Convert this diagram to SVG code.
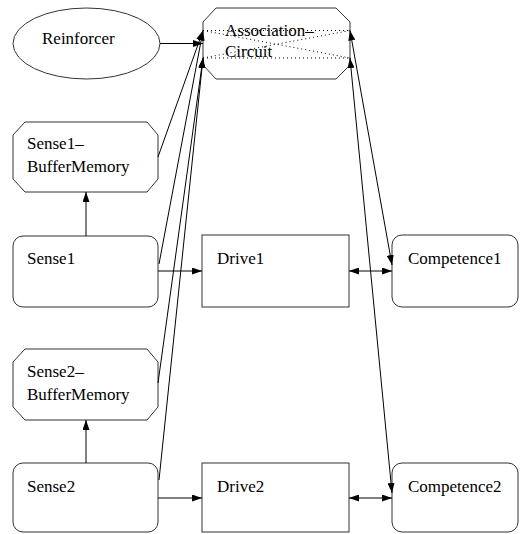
<svg xmlns="http://www.w3.org/2000/svg" width="530" height="534" viewBox="0 0 530 534">
  <style>
    .node { fill: #ffffff; stroke: #333333; stroke-width: 1; }
    .label { font-family: "Liberation Serif", "Times New Roman", serif; font-size: 17px; fill: #000000; }
    .edge { fill: none; stroke: #000000; stroke-width: 1; }
    .inner { fill: none; stroke: #000000; stroke-width: 1; stroke-dasharray: 1 3; }
  </style>
  <defs>
    <marker id="arrow" viewBox="0 0 10 7" refX="10" refY="3.5" markerWidth="10" markerHeight="7" markerUnits="userSpaceOnUse" orient="auto-start-reverse">
      <path d="M0,0 L10,3.5 L0,7 Z" fill="#000000"/>
    </marker>
  </defs>
  <rect width="530" height="534" fill="#ffffff"/>

  <g id="reinforcer">
    <ellipse class="node" cx="86.5" cy="43.5" rx="73.5" ry="35.5"/>
    <text class="label" x="42" y="44">Reinforcer</text>
  </g>

  <g id="association-circuit">
    <polygon class="node" points="216,8 336,8 350,22 350,65 336,79 216,79 203,65 203,22"/>
    <line class="inner" x1="203" y1="30.5" x2="350" y2="30.5"/>
    <line class="inner" x1="203" y1="58" x2="350" y2="58"/>
    <line class="inner" x1="203" y1="30.5" x2="350" y2="58"/>
    <line class="inner" x1="203" y1="58" x2="350" y2="30.5"/>
    <text class="label" x="225" y="36">Association–</text>
    <text class="label" x="225" y="57">Circuit</text>
  </g>

  <g id="sense1-buffermemory">
    <polygon class="node" points="25,122 147,122 158,135 158,179 147,192 25,192 13,179 13,135"/>
    <text class="label" x="27" y="149">Sense1–</text>
    <text class="label" x="27" y="172">BufferMemory</text>
  </g>

  <g id="sense1">
    <rect class="node" x="13" y="236" width="145" height="71" rx="10" ry="10"/>
    <text class="label" x="27" y="264">Sense1</text>
  </g>

  <g id="drive1">
    <rect class="node" x="202" y="235" width="147" height="72"/>
    <text class="label" x="217" y="264">Drive1</text>
  </g>

  <g id="competence1">
    <rect class="node" x="392" y="235" width="126" height="72" rx="10" ry="10"/>
    <text class="label" x="408" y="264">Competence1</text>
  </g>

  <g id="sense2-buffermemory">
    <polygon class="node" points="25,349 147,349 158,362 158,407 147,420 25,420 13,407 13,362"/>
    <text class="label" x="27" y="377">Sense2–</text>
    <text class="label" x="27" y="400">BufferMemory</text>
  </g>

  <g id="sense2">
    <rect class="node" x="13" y="463" width="145" height="69" rx="10" ry="10"/>
    <text class="label" x="27" y="492">Sense2</text>
  </g>

  <g id="drive2">
    <rect class="node" x="202" y="463" width="147" height="69"/>
    <text class="label" x="217" y="492">Drive2</text>
  </g>

  <g id="competence2">
    <rect class="node" x="392" y="463" width="126" height="69" rx="10" ry="10"/>
    <text class="label" x="408" y="492">Competence2</text>
  </g>

  <g id="connectors">
    <line class="edge" x1="160" y1="43.5" x2="203" y2="43.5" marker-end="url(#arrow)"/>
    <line class="edge" x1="158" y1="157" x2="203" y2="30.5" marker-end="url(#arrow)"/>
    <line class="edge" x1="159" y1="264" x2="203" y2="30.5" marker-end="url(#arrow)"/>
    <line class="edge" x1="158" y1="383" x2="203" y2="58" marker-end="url(#arrow)"/>
    <line class="edge" x1="159" y1="480" x2="203" y2="58" marker-end="url(#arrow)"/>
    <line class="edge" x1="86" y1="236" x2="86" y2="192" marker-end="url(#arrow)"/>
    <line class="edge" x1="86" y1="463" x2="86" y2="420" marker-end="url(#arrow)"/>
    <line class="edge" x1="158" y1="271" x2="202" y2="271" marker-end="url(#arrow)"/>
    <line class="edge" x1="158" y1="498" x2="202" y2="498" marker-end="url(#arrow)"/>
    <line class="edge" x1="349" y1="271" x2="392" y2="271" marker-start="url(#arrow)" marker-end="url(#arrow)"/>
    <line class="edge" x1="349" y1="498" x2="392" y2="498" marker-start="url(#arrow)" marker-end="url(#arrow)"/>
    <line class="edge" x1="350" y1="30.5" x2="392" y2="265" marker-start="url(#arrow)" marker-end="url(#arrow)"/>
    <line class="edge" x1="350" y1="58" x2="392" y2="493" marker-start="url(#arrow)" marker-end="url(#arrow)"/>
  </g>
</svg>
